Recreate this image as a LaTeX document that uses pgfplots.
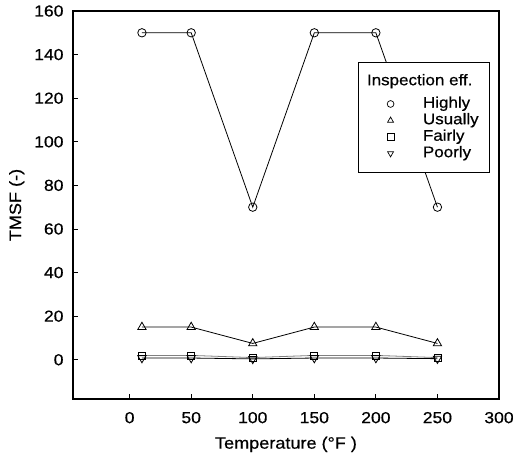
\documentclass[border=0pt]{standalone}
\usepackage{pgfplots}
\pgfplotsset{compat=1.18}
\usepackage{fontspec}
\setmainfont{Liberation Sans}[FakeStretch=1.1, FakeBold=0.5]
\begin{document}
\fontsize{16}{18}\selectfont
\begin{tikzpicture}
\begin{axis}[
  scale only axis, width=426bp, height=388bp,
  xmin=-46, xmax=300, ymin=-18, ymax=160,
  xtick={0,50,...,300}, ytick={0,20,...,160},
  tick align=inside, tick pos=left,
  axis line style={line width=1.3bp},
  major tick style={line width=0.8bp, black},
  major tick length=5bp,
  /pgf/number format/assume math mode=true,
  ticklabel style={font=\fontsize{16}{18}\selectfont},
  xticklabel style={yshift=-7.5bp},
  yticklabel style={xshift=-4bp},
  xlabel={Temperature (\textdegree F )},
  ylabel={TMSF (-)},
  xlabel style={at={(axis description cs:0.5,-0.117)}, anchor=center, font=\fontsize{16.5}{18}\selectfont},
  ylabel style={at={(axis description cs:-0.132,0.5)}, anchor=center, font=\fontsize{16.5}{18}\selectfont},
  legend style={at={(0.979,0.869)}, anchor=north east, draw=black, line width=0.8bp,
    font=\fontsize{15.5}{16}\selectfont, row sep=0bp, column sep=0bp, inner xsep=7bp, inner ysep=11bp,
    nodes={inner xsep=4bp, inner ysep=0.5bp, text height=11.5bp, text depth=4bp},
    cells={anchor=west}},
  legend image code/.code={\path (0bp,0bp) (53bp,0bp); \draw[#1, mark size=3.4bp, line width=0.7bp] plot coordinates {(25bp,0bp)};},
]
\addlegendimage{empty legend}
\addlegendentry[text depth=10bp]{\hspace{-56bp}Inspection eff.}
\addplot[black, line width=0.8bp, mark=o, mark size=4.2bp, mark options={fill=white}] coordinates {(10,150) (50,150) (100,70) (150,150) (200,150) (250,70)};
\addlegendentry{Highly}
\addplot[black, line width=0.8bp, mark=triangle, mark size=4.8bp, mark options={fill=white}] coordinates {(10,15) (50,15) (100,7.5) (150,15) (200,15) (250,7.5)};
\addlegendentry{Usually}
\addplot[gray, line width=0.8bp, mark=square, mark size=3.5bp, mark options={draw=black, fill=white}] coordinates {(10,2) (50,2) (100,1) (150,2) (200,2) (250,1)};
\addlegendentry{Fairly}
\addplot[black, line width=0.8bp, mark=triangle, mark size=4.8bp, mark options={rotate=180, fill=white}] coordinates {(10,0.8) (50,0.8) (100,0.4) (150,0.8) (200,0.8) (250,0.5)};
\addlegendentry{Poorly}
\end{axis}
\path ([xshift=-73bp,yshift=-59bp]current axis.south west) rectangle ([xshift=24bp,yshift=11bp]current axis.north east);
\end{tikzpicture}
\end{document}
